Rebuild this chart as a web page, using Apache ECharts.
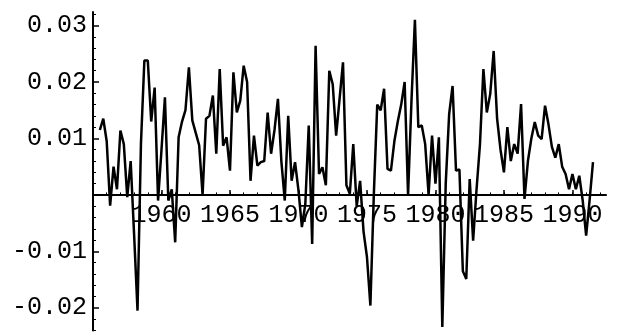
<!DOCTYPE html>
<html>
<head>
<meta charset="utf-8">
<script src="https://cdn.jsdelivr.net/npm/echarts@6/dist/echarts.min.js"></script>
<style>
html,body{margin:0;padding:0;background:#fff;}
#chart{width:619px;height:333px;}
</style>
</head>
<body>
<div id="chart"></div>
<script>
// Quarterly series, first point at 1955.5, one point per quarter (0.25 year)
var startYear = 1955.5;
var quarterStep = 0.25;

var vals1955 = [0.0115, 0.0135, 0.0095, -0.0019, 0.005, 0.001, 0.0114, 0.009, -0.0004, 0.006, -0.007];
var vals1958 = [-0.0205, 0.009, 0.0238, 0.0238, 0.013, 0.019, -0.001, 0.008];
var vals1960 = [0.0173, -0.001, 0.001, -0.0084, 0.0102, 0.013, 0.015, 0.0226, 0.0132, 0.011, 0.0088, 0.0];
var vals1963 = [0.0135, 0.014, 0.0176, 0.0073, 0.0223, 0.0087, 0.0102, 0.0043];
var vals1965 = [0.0217, 0.0146, 0.0167, 0.0229, 0.020, 0.0025, 0.0105, 0.0052, 0.0058, 0.006, 0.0146, 0.0073];
var vals1968 = [0.0115, 0.017, 0.006, -0.001, 0.014, 0.0025, 0.0058, 0.0008];
var vals1970 = [-0.0057, -0.0016, 0.0123, -0.0087, 0.0264, 0.0037, 0.0049, 0.0017, 0.022, 0.0196, 0.0105, 0.017];
var vals1973 = [0.0235, 0.0017, 0.0002, 0.009, -0.002, 0.0025, -0.0065, -0.011];
var vals1975 = [-0.0196, 0.0, 0.016, 0.015, 0.0188, 0.0046, 0.0043, 0.0095, 0.013, 0.016, 0.020, 0.0];
var vals1978 = [0.0167, 0.031, 0.012, 0.0123, 0.009, 0.0, 0.0105, 0.002];
var vals1980 = [0.0102, -0.0234, 0.002, 0.0143, 0.0193, 0.0043, 0.0045, -0.0135, -0.0149, 0.0028, -0.0081, 0.001];
var vals1983 = [0.009, 0.0223, 0.0146, 0.0179, 0.0255, 0.0135, 0.008, 0.004];
var vals1985 = [0.012, 0.006, 0.009, 0.0073, 0.0161, -0.0007, 0.006, 0.010, 0.0129, 0.0105, 0.0099, 0.0158];
var vals1988 = [0.0125, 0.0085, 0.0066, 0.009, 0.005, 0.0037, 0.001, 0.0037];
var vals1990 = [0.001, 0.0034, -0.001, -0.0072, -0.001, 0.0058];

var xLabelYears = [1960, 1965, 1970, 1975, 1980, 1985, 1990];
var yLabelValues = [-0.02, -0.01, 0.01, 0.02, 0.03];

var values = [].concat(vals1955, vals1958, vals1960, vals1963, vals1965, vals1968,
  vals1970, vals1973, vals1975, vals1978, vals1980, vals1983, vals1985, vals1988, vals1990);

var seriesData = values.map(function (v, i) {
  return [startYear + i * quarterStep, v];
});

// layout helpers
var yMin = -0.024, yMax = 0.0324;
var gridTop = 12, gridBottom = 2.6, chartH = 333;
var plotH = chartH - gridTop - gridBottom;
var zeroOffset = -(yMin * -1) / (yMax - yMin) * plotH; // moves bottom axis up to the zero line

var xMinorTicks = [];
for (var y = 1956; y <= 1992; y++) xMinorTicks.push(y);
var yMinorTicks = [];
for (var j = -12; j <= 16; j++) {
  if (j !== 0 && j % 5 !== 0) yMinorTicks.push(Math.round(j * 0.002 * 10000) / 10000);
}

var fontFam = '"Liberation Mono", "DejaVu Sans Mono", monospace';
var chart = echarts.init(document.getElementById('chart'), null, {renderer: 'canvas'});
chart.setOption({
  animation: false,
  backgroundColor: '#fff',
  grid: {left: 93, right: 13, top: gridTop, bottom: gridBottom, containLabel: false, outerBoundsMode: 'none'},
  xAxis: [{
    type: 'value', min: 1955, max: 1992.45, position: 'bottom', offset: zeroOffset,
    axisLine: {show: true, onZero: false, lineStyle: {color: '#000', width: 2}},
    axisTick: {show: true, inside: true, length: 5, customValues: xLabelYears, lineStyle: {color: '#000', width: 1.5}},
    axisLabel: {show: true, customValues: xLabelYears, margin: 8, color: '#000', fontFamily: fontFam, fontSize: 25,
      formatter: function (v) { return String(Math.round(v)); }},
    splitLine: {show: false}
  }, {
    type: 'value', min: 1955, max: 1992.45, position: 'bottom', offset: zeroOffset,
    axisLine: {show: false, onZero: false},
    axisTick: {show: true, inside: true, length: 2.5, customValues: xMinorTicks, lineStyle: {color: '#000', width: 1}},
    axisLabel: {show: false},
    splitLine: {show: false}
  }],
  yAxis: [{
    type: 'value', min: yMin, max: yMax, position: 'left',
    axisLine: {show: true, onZero: false, lineStyle: {color: '#000', width: 2}},
    axisTick: {show: true, inside: true, length: 6, customValues: yLabelValues, lineStyle: {color: '#000', width: 1.5}},
    axisLabel: {show: true, customValues: yLabelValues, margin: 6, color: '#000', fontFamily: fontFam, fontSize: 25,
      formatter: function (v) { return v.toFixed(2); }},
    splitLine: {show: false}
  }, {
    type: 'value', min: yMin, max: yMax, position: 'left', offset: 0,
    axisLine: {show: false, onZero: false},
    axisTick: {show: true, inside: true, length: 3, customValues: yMinorTicks, lineStyle: {color: '#000', width: 1}},
    axisLabel: {show: false},
    splitLine: {show: false}
  }],
  series: [{
    type: 'line',
    xAxisIndex: 0, yAxisIndex: 0,
    data: seriesData,
    showSymbol: false,
    symbol: 'none',
    lineStyle: {color: '#000', width: 2.5},
    z: 5
  }]
});
</script>
</body>
</html>
